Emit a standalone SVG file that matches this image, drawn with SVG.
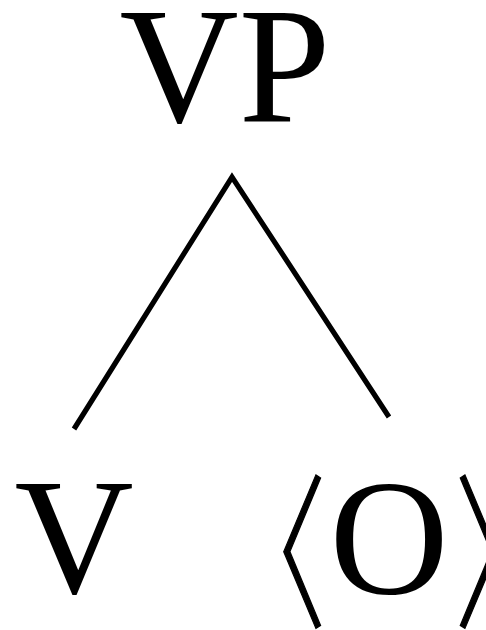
<svg xmlns="http://www.w3.org/2000/svg" width="486" height="630" viewBox="0 0 486 630">
<style>
.lbl{font-family:"Liberation Serif","Times New Roman",serif;font-size:165px;fill:#000}
.br{font-family:"DejaVu Sans",sans-serif;font-size:174px;fill:#000;stroke:#000;stroke-width:1.3}
.edge{stroke:#000;stroke-width:5.2;fill:none;stroke-linecap:butt;stroke-linejoin:miter}
</style>
<rect width="486" height="630" fill="#fff"/>
<g id="node-VP"><text class="lbl" x="119.5" y="122">VP</text></g>
<g id="node-V"><text class="lbl" x="74" y="593" text-anchor="middle">V</text></g>
<g id="node-O">
<text class="br" transform="translate(186,614) scale(0.89,1)">〈</text>
<text class="lbl" x="389" y="593" text-anchor="middle">O</text>
<text class="br" transform="translate(440,614) scale(0.89,1)">〉</text>
</g>
<g id="connectors">
<polyline class="edge" points="74,429 232,177 389,417"/>
</g>
</svg>
